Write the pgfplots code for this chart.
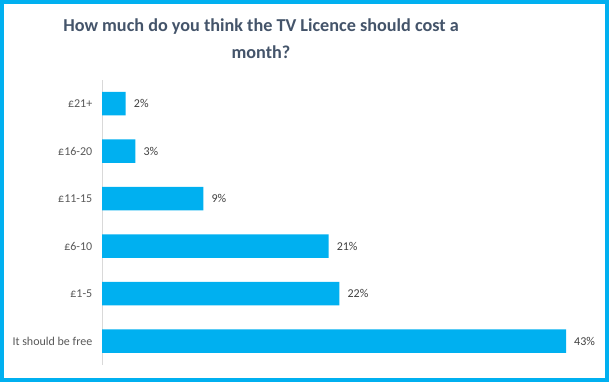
\documentclass[border=0pt]{standalone}
\usepackage{pgfplots}
\pgfplotsset{compat=1.18}
\usepackage{fontspec}
\setmainfont{Carlito}
\definecolor{barblue}{HTML}{00B0F0}
\definecolor{titlecol}{HTML}{44546A}
\definecolor{labcol}{HTML}{595959}
\definecolor{valcol}{HTML}{404040}
\begin{document}
\begin{tikzpicture}[x=1pt,y=1pt]
\path[use as bounding box] (0,0) rectangle (609,382);
\fill[white] (0,0) rectangle (609,382);
\begin{axis}[
  at={(102pt,17pt)}, anchor=south west,
  scale only axis, width=485.6pt, height=285pt,
  xbar, xmin=0, xmax=45, ymin=-0.5, ymax=5.5,
  bar width=23.5pt,
  hide x axis,
  axis y line*=left,
  y axis line style={draw=black!15, line width=0.8pt},
  ytick={0,1,2,3,4,5},
  yticklabels={It should be free, £1-5, £6-10, £11-15, £16-20, £21+},
  major tick length=0pt,
  yticklabel style={font=\fontsize{12}{14}\selectfont, text=labcol, inner sep=0pt, xshift=-9.5pt},
  /pgf/number format/assume math mode=true,
  nodes near coords={\pgfmathprintnumber[fixed,precision=0]{\pgfplotspointmeta}\%},
  nodes near coords style={font=\fontsize{12}{14}\selectfont, text=valcol, anchor=west, inner sep=0pt, xshift=8pt},
  point meta=x,
  clip=false,
]
\addplot[draw=none, fill=barblue] coordinates {(43,0) (22,1) (21,2) (9.4,3) (3.1,4) (2.2,5)};
\end{axis}
\node[font=\fontsize{18.2}{27}\selectfont\bfseries, text=titlecol, align=center, anchor=center] at (261,343) {How much do you think the TV Licence should cost a\\month?};
\draw[barblue, line width=4pt] (2,2) rectangle (607,380);
\end{tikzpicture}
\end{document}
